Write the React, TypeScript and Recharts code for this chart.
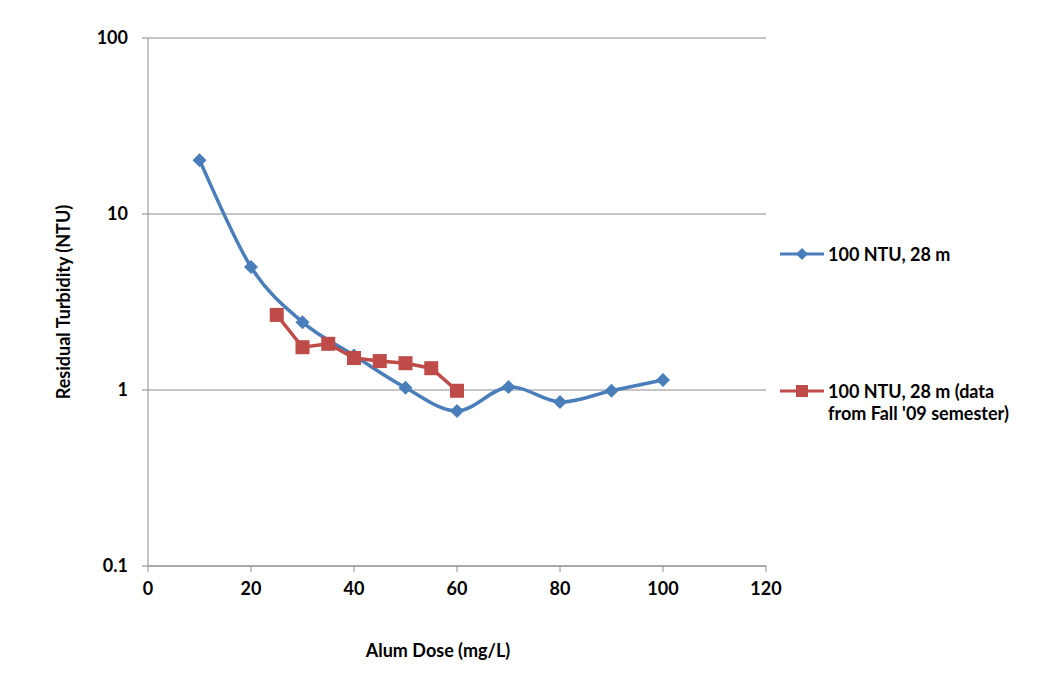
import { LineChart, Line, XAxis, YAxis, CartesianGrid } from 'recharts';

const blueDose = [10, 20, 30, 40, 50, 60, 70, 80, 90, 100];
const blueTurbidity = [20.2, 5.0, 2.43, 1.57, 1.03, 0.76, 1.04, 0.855, 0.99, 1.14];

const redDose = [25, 30, 35, 40, 45, 50, 55, 60];
const redTurbidity = [2.67, 1.75, 1.83, 1.52, 1.46, 1.42, 1.33, 0.99];

const xTicks = [0, 20, 40, 60, 80, 100, 120];
const yTicks = [0.1, 1, 10, 100];

const BLUE = '#4a7ebb';
const RED = '#be4b48';
const FONT = 'Lato, "Open Sans", sans-serif';

const blueData = blueDose.map((d, i) => ({ dose: d, value: blueTurbidity[i] }));
const redData = redDose.map((d, i) => ({ dose: d, value: redTurbidity[i] }));

// Excel-like smoothed line (uniform Catmull-Rom through the points)
function smoothCurve(context: any) {
  let pts: number[][] = [];
  return {
    areaStart() {},
    areaEnd() {},
    lineStart() {
      pts = [];
    },
    point(x: number, y: number) {
      pts.push([+x, +y]);
    },
    lineEnd() {
      if (!pts.length) return;
      context.moveTo(pts[0][0], pts[0][1]);
      for (let i = 0; i < pts.length - 1; i++) {
        const p0 = pts[i - 1] || pts[i];
        const p1 = pts[i];
        const p2 = pts[i + 1];
        const p3 = pts[i + 2] || pts[i + 1];
        context.bezierCurveTo(
          p1[0] + (p2[0] - p0[0]) / 6,
          p1[1] + (p2[1] - p0[1]) / 6,
          p2[0] - (p3[0] - p1[0]) / 6,
          p2[1] - (p3[1] - p1[1]) / 6,
          p2[0],
          p2[1],
        );
      }
    },
  };
}

function Diamond(props: any) {
  const { cx, cy } = props;
  if (cx == null || cy == null) return null;
  const r = 7;
  return (
    <path
      d={`M${cx},${cy - r}L${cx + r},${cy}L${cx},${cy + r}L${cx - r},${cy}Z`}
      fill={BLUE}
    />
  );
}

function Square(props: any) {
  const { cx, cy } = props;
  if (cx == null || cy == null) return null;
  const s = 7;
  return <rect x={cx - s} y={cy - s} width={s * 2} height={s * 2} fill={RED} />;
}

function LegendBox() {
  const row = { display: 'flex', alignItems: 'flex-start', gap: 4 } as const;
  const text = { fontFamily: FONT, fontSize: 18, fontWeight: 700, color: '#000', lineHeight: '22px' };
  return (
    <div style={{ position: 'absolute', left: 780, top: 243, width: 270 }}>
      <div style={row}>
        <svg width={44} height={22}>
          <line x1={0} y1={11} x2={44} y2={11} stroke={BLUE} strokeWidth={3} />
          <path d="M22,5L28,11L22,17L16,11Z" fill={BLUE} />
        </svg>
        <span style={text}>100 NTU, 28 m</span>
      </div>
      <div style={{ ...row, marginTop: 115 }}>
        <svg width={44} height={22}>
          <line x1={0} y1={11} x2={44} y2={11} stroke={RED} strokeWidth={3} />
          <rect x={16} y={5} width={12} height={12} fill={RED} />
        </svg>
        <span style={text}>
          100 NTU, 28 m (data
          <br />
          from Fall '09 semester)
        </span>
      </div>
    </div>
  );
}

export default function App() {
  return (
    <div style={{ position: 'absolute', left: 0, top: 0, width: 1052, height: 677, background: '#fff' }}>
      <LineChart
        width={1052}
        height={677}
        margin={{ top: 38, right: 286, bottom: 0, left: 0 }}
      >
        <CartesianGrid vertical={false} stroke="#8c8c8c" strokeWidth={1} />
        <XAxis
          type="number"
          dataKey="dose"
          domain={[0, 120]}
          ticks={xTicks}
          height={111}
          stroke="#8c8c8c"
          tickSize={6}
          tick={{ fill: '#000', fontSize: 18, fontFamily: FONT, fontWeight: 700, dy: 8 }}
          label={{
            value: 'Alum Dose (mg/L)',
            position: 'insideBottom',
            offset: 20,
            dx: -19,
            style: { fill: '#000', fontSize: 18, fontFamily: FONT, fontWeight: 700 },
          }}
        />
        <YAxis
          type="number"
          scale="log"
          domain={[0.1, 100]}
          ticks={yTicks}
          width={148}
          stroke="#8c8c8c"
          tickSize={6}
          allowDataOverflow
          tickFormatter={(v: number) => String(v)}
          tick={{ fill: '#000', fontSize: 18, fontFamily: FONT, fontWeight: 700, dx: -12 }}
          label={{
            value: 'Residual Turbidity (NTU)',
            angle: -90,
            position: 'insideLeft',
            offset: 64,
            dy: 0,
            style: { fill: '#000', fontSize: 18, fontFamily: FONT, fontWeight: 700, textAnchor: 'middle' },
          }}
        />
        <Line
          data={blueData}
          dataKey="value"
          type={smoothCurve as any}
          stroke={BLUE}
          strokeWidth={3.5}
          dot={<Diamond />}
          activeDot={false}
          isAnimationActive={false}
        />
        <Line
          data={redData}
          dataKey="value"
          type="linear"
          stroke={RED}
          strokeWidth={3.5}
          dot={<Square />}
          activeDot={false}
          isAnimationActive={false}
        />
      </LineChart>
      <LegendBox />
    </div>
  );
}
